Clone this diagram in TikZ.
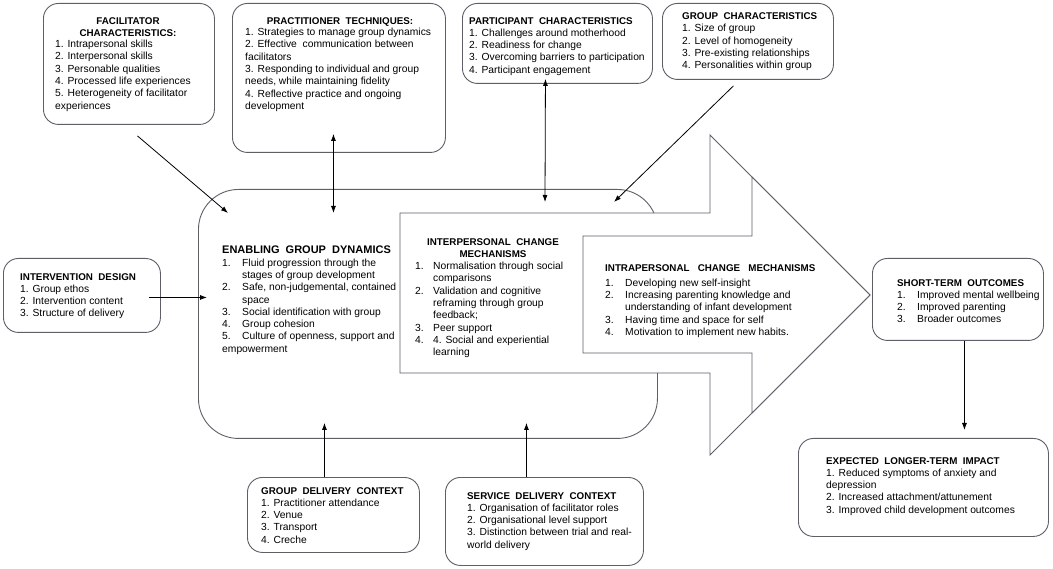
\documentclass[tikz,border=0pt]{standalone}
\usepackage{fontspec}
\setmainfont{Liberation Sans}
\usetikzlibrary{calc,arrows.meta}
\definecolor{boxgray}{RGB}{95,95,105}
\newcommand{\nr}[2][20pt]{\makebox[#1][l]{#2}}
\newcommand{\cnt}[1][20pt]{\hspace*{#1}}
\newcommand{\ttl}[1]{{\fontsize{9.8}{12.3}\selectfont\bfseries #1}}
\tikzset{
    factor/.style={draw=boxgray,line width=0.9pt,rounded corners=15pt,fill=white,inner sep=0,anchor=north west},
    mechshape/.style={draw=boxgray,line width=0.9pt,fill=white,line join=miter},
    listtext/.style={align=left,inner sep=0,anchor=north west,font=\fontsize{10.3}{12.3}\selectfont},
    headtext/.style={align=center,inner sep=0,anchor=north,font=\fontsize{9.8}{12.3}\selectfont\bfseries},
    link/.style={-{Latex[length=7pt,width=5pt]},line width=0.8pt},
    twolink/.style={{Latex[length=7pt,width=5pt]}-{Latex[length=7pt,width=5pt]},line width=0.8pt}
}

\begin{document}
\begin{tikzpicture}[x=1pt,y=-1pt]
    \useasboundingbox (0,0) rectangle (1053,569);

    % factor boxes
    \node[factor,minimum width=171pt,minimum height=121pt] (facil) at (43,3) {};
    \node[factor,minimum width=213pt,minimum height=149pt] (prac) at (232,3) {};
    \node[factor,minimum width=190pt,minimum height=80pt] (part) at (462,3) {};
    \node[factor,minimum width=171pt,minimum height=76pt] (grp) at (662,3) {};
    \node[factor,minimum width=157pt,minimum height=74pt] (design) at (3,258) {};
    \node[factor,minimum width=172pt,minimum height=75pt] (grpdel) at (247,477) {};
    \node[factor,minimum width=198pt,minimum height=88pt] (svcdel) at (445,477) {};
    \node[factor,minimum width=171pt,minimum height=82pt] (short) at (872,258) {};
    \node[factor,minimum width=250pt,minimum height=98pt] (long) at (798,438) {};

    % nested mechanisms
    \node[factor,rounded corners=40pt,minimum width=459pt,minimum height=249pt] (enable) at (198,189) {};
    \draw[mechshape] (400,213) coordinate (inter) -- (710,213) -- (710,135) -- (870,295) coordinate (tip)
        -- (710,455) -- (710,373) -- (400,373) -- cycle;
    \draw[mechshape] (583,236) coordinate (intra) -- (752,236) -- (752,177) -- (tip)
        -- (752,413) -- (752,353) -- (583,353) -- cycle;

    \node[headtext] (facil-head) at (128,17) {FACILITATOR\\CHARACTERISTICS:};
    \node[listtext] (facil-list) at (55,40) {1. Intrapersonal skills\\2. Interpersonal skills\\
        3. Personable qualities\\4. Processed life experiences\\5. Heterogeneity of facilitator\\experiences};

    \node[headtext] (prac-head) at (340,17) {PRACTITIONER\ \ TECHNIQUES:};
    \node[listtext] (prac-list) at (245,28) {1. Strategies to manage group dynamics\\
        2. Effective\ \ communication between\\facilitators\\
        3. Responding to individual and group\\needs, while maintaining fidelity\\
        4. Reflective practice and ongoing\\development};

    \node[listtext] (part-list) at (469,17) {\ttl{PARTICIPANT\ \ CHARACTERISTICS}\\
        1. Challenges around motherhood\\2. Readiness for change\\
        3. Overcoming barriers to participation\\4. Participant engagement};

    \node[listtext] (grp-list) at (682,12.5) {\ttl{GROUP\ \ CHARACTERISTICS}\\
        1. Size of group\\2. Level of homogeneity\\3. Pre-existing relationships\\4. Personalities within group};

    \node[listtext] (design-list) at (20,273) {\ttl{INTERVENTION\ \ DESIGN}\\
        1. Group ethos\\2. Intervention content\\3. Structure of delivery};

    \node[listtext] (grpdel-list) at (261,487) {\ttl{GROUP\ \ DELIVERY\ \ CONTEXT}\\
        1. Practitioner attendance\\2. Venue\\3. Transport\\4. Creche};

    \node[listtext] (svcdel-list) at (467,492) {\ttl{SERVICE\ \ DELIVERY\ \ CONTEXT}\\
        1. Organisation of facilitator roles\\2. Organisational level support\\
        3. Distinction between trial and real-\\world delivery};

    \node[listtext] (short-list) at (897,279) {\ttl{SHORT-TERM\ \ OUTCOMES}\\
        \nr{1.}Improved mental wellbeing\\\nr{2.}Improved parenting\\\nr{3.}Broader outcomes};

    \node[listtext] (long-list) at (826,457) {\ttl{EXPECTED\ \ LONGER-TERM\ \ IMPACT}\\
        1. Reduced symptoms of anxiety and\\depression\\2. Increased attachment/attunement\\
        3. Improved child development outcomes};

    \node[listtext] (enable-list) at (222,246) {{\fontsize{11}{13}\selectfont\bfseries ENABLING\ \ GROUP\ \ DYNAMICS}\\
        \nr{1.}Fluid progression through the\\\cnt stages of group development\\
        \nr{2.}Safe, non-judgemental, contained\\\cnt space\\
        \nr{3.}Social identification with group\\\nr{4.}Group cohesion\\
        \nr{5.}Culture of openness, support and\\empowerment};

    \node[headtext] (inter-head) at (493,238) {INTERPERSONAL\ \ CHANGE\\MECHANISMS};
    \node[listtext] (inter-list) at (415,262) {\nr[18pt]{1.}Normalisation through social\\\cnt[18pt]comparisons\\
        \nr[18pt]{2.}Validation and cognitive\\\cnt[18pt]reframing through group\\\cnt[18pt]feedback;\\
        \nr[18pt]{3.}Peer support\\\nr[18pt]{4.}4. Social and experiential\\\cnt[18pt]learning};

    \node[listtext] (intra-list) at (605,264) {\ttl{INTRAPERSONAL\ \ \ CHANGE\ \ \ MECHANISMS}\\[3pt]
        \nr{1.}Developing new self-insight\\
        \nr{2.}Increasing parenting knowledge and\\\cnt understanding of infant development\\
        \nr{3.}Having time and space for self\\\nr{4.}Motivation to implement new habits.};

    % influences
    \draw[link] ($(facil.south)+(8.5,11)$) -- ($(enable.north west)+(30,24)$);
    \draw[twolink] ($(prac.south)+(-5.5,-19)$) -- ($(enable.north)+(-94.5,24)$);
    \draw[twolink] ($(part.south)+(-12,-5)$) -- ($(inter)+(145,-11)$);
    \draw[link] ($(grp.south)+(-14.5,6)$) -- ($(inter)+(214,-11)$);
    \draw[link] ($(design.east)+(-12,2)$) -- ($(enable.west)+(9,-16.5)$);
    \draw[link] ($(grpdel.north)+(-9,0)$) -- ($(enable.south)+(-103.5,-16)$);
    \draw[link] ($(svcdel.north)+(-18,0)$) -- ($(enable.south)+(98.5,-16)$);
    \draw[link] ($(short.south)+(6.5,0)$) -- ($(long.north)+(41,-8)$);
\end{tikzpicture}
\end{document}
